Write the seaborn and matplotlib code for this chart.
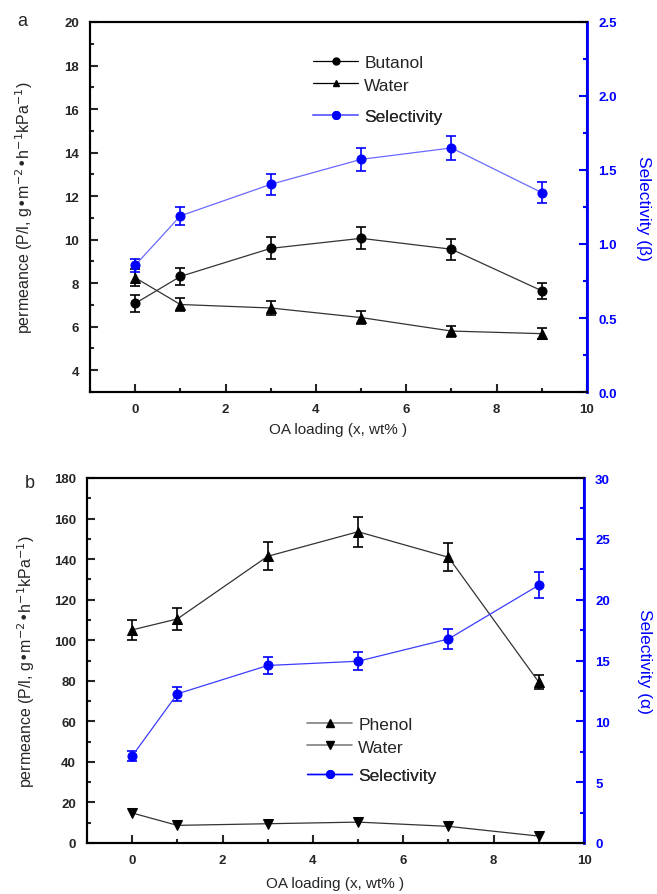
import matplotlib
matplotlib.use("Agg")
import matplotlib.pyplot as plt
import seaborn as sns
import pandas as pd
from matplotlib.ticker import MultipleLocator
from matplotlib.lines import Line2D

sns.set_theme(style="white")
plt.rcParams['font.family'] = ['Liberation Sans', 'DejaVu Sans']

# ---- data ----
oa_loading = [0, 1, 3, 5, 7, 9]

# panel a
butanol_perm = [7.07, 8.31, 9.60, 10.06, 9.56, 7.65]
butanol_err = [0.38, 0.40, 0.50, 0.50, 0.49, 0.38]
water_a_perm = [8.25, 7.02, 6.86, 6.42, 5.80, 5.68]
water_a_err = [0.40, 0.30, 0.30, 0.30, 0.25, 0.25]
sel_beta = [0.856, 1.19, 1.403, 1.572, 1.649, 1.347]
sel_beta_err = [0.045, 0.06, 0.07, 0.08, 0.08, 0.07]

# panel b
phenol_perm = [105.1, 110.5, 141.4, 153.5, 140.9, 79.3]
phenol_err = [5.0, 5.5, 7.0, 7.5, 7.0, 3.5]
water_b_perm = [14.8, 8.7, 9.5, 10.3, 8.2, 3.4]
sel_alpha = [7.15, 12.26, 14.59, 14.94, 16.77, 21.19]
sel_alpha_err = [0.4, 0.6, 0.7, 0.75, 0.85, 1.05]

ylabel = "permeance (P/l, g\u2022m$^{-2}$\u2022h$^{-1}$kPa$^{-1}$)"
xlabel = "OA loading (x, wt% )"

BLUE = "#0000ff"
LBLUE_A = "#6a6aff"
LBLUE_B = "#3c3cff"
DGRAY = "#333333"

W, H = 657, 895
fig = plt.figure(figsize=(6.57, 8.95), dpi=100)
axA = fig.add_axes([90/W, 1-393/H, 497/W, 370/H])
axB = fig.add_axes([87/W, 1-844/H, 497/W, 365/H])

def style_axes(ax, ax2, ylim, yl_major, yl_minor, y2lim, y2_major, y2_minor):
    ax.set_xlim(-1, 10)
    ax.set_ylim(*ylim)
    ax2.set_ylim(*y2lim)
    ax.xaxis.set_major_locator(MultipleLocator(2))
    ax.xaxis.set_minor_locator(MultipleLocator(1))
    ax.yaxis.set_major_locator(MultipleLocator(yl_major))
    ax.yaxis.set_minor_locator(MultipleLocator(yl_minor))
    ax2.yaxis.set_major_locator(MultipleLocator(y2_major))
    ax2.yaxis.set_minor_locator(MultipleLocator(y2_minor))
    for a in (ax, ax2):
        for s in a.spines.values():
            s.set_linewidth(1.5)
            s.set_color("black")
    ax2.spines['right'].set_color(BLUE)
    ax2.spines['right'].set_linewidth(2)
    ax.tick_params(axis='both', which='major', direction='in', length=6, width=1.5,
                   labelsize=9.5, top=False, right=False, bottom=True, left=True, pad=8)
    ax.tick_params(axis='both', which='minor', direction='in', length=3, width=1.5,
                   top=False, right=False, bottom=True, left=True)
    ax2.tick_params(axis='y', which='major', direction='in', length=6, width=1.5,
                    colors=BLUE, labelsize=9.5, pad=8)
    ax2.tick_params(axis='y', which='minor', direction='in', length=3, width=1.5, colors=BLUE)
    for lab in ax.get_xticklabels() + ax.get_yticklabels() + ax2.get_yticklabels():
        lab.set_fontweight('bold')

def series(ax, y, err, marker, lc, mc, ms=6.5):
    df = pd.DataFrame({"x": oa_loading, "y": y})
    sns.lineplot(data=df, x="x", y="y", ax=ax, color=lc, linewidth=0.9,
                 marker=marker, markersize=ms, markerfacecolor=mc, markeredgecolor=mc,
                 legend=False, zorder=3)
    if err is not None:
        ax.errorbar(oa_loading, y, yerr=err, fmt='none', ecolor=mc, elinewidth=1.2,
                    capsize=3.5, capthick=1.2, zorder=2)

def add_legend(ax, handles, labels, x_px, y_px):
    leg = ax.legend(handles, labels, loc='center left',
                    bbox_to_anchor=(x_px/W, 1-y_px/H), bbox_transform=fig.transFigure,
                    frameon=False, fontsize=12.5, handlelength=2.6, handletextpad=0.35,
                    labelspacing=0.45, borderpad=0, borderaxespad=0)
    ax.add_artist(leg)

# ---- panel a ----
axA2 = axA.twinx()
series(axA, butanol_perm, butanol_err, 'o', DGRAY, 'black')
series(axA, water_a_perm, water_a_err, '^', DGRAY, 'black')
series(axA2, sel_beta, sel_beta_err, 'o', LBLUE_A, BLUE)
style_axes(axA, axA2, (3, 20), 2, 1, (0, 2.5), 0.5, 0.25)
axA2.set_ylabel("Selectivity (\u03b2)", color=BLUE, fontsize=12.5, rotation=270, labelpad=25)
axA.set_xlabel(xlabel, fontsize=11, labelpad=5)
axA.set_ylabel(ylabel, fontsize=11.5, labelpad=21)

hA1 = [Line2D([], [], color='black', lw=0.9, marker='o', ms=5),
       Line2D([], [], color='black', lw=0.9, marker='^', ms=5)]
hA2 = [Line2D([], [], color=LBLUE_A, lw=1.2, marker='o', ms=5.5, mfc=BLUE, mec=BLUE)]
add_legend(axA2, hA1, ["Butanol", "Water"], 313, 74.5)
add_legend(axA2, hA2, ["Selectivity"], 313, 117)

# ---- panel b ----
axB2 = axB.twinx()
series(axB, phenol_perm, phenol_err, '^', DGRAY, 'black')
series(axB, water_b_perm, None, 'v', DGRAY, 'black')
series(axB2, sel_alpha, sel_alpha_err, 'o', LBLUE_B, BLUE)
style_axes(axB, axB2, (0, 180), 20, 10, (0, 30), 5, 2.5)
axB2.set_ylabel("Selectivity (\u03b1)", color=BLUE, fontsize=12.5, rotation=270, labelpad=30)
axB.set_xlabel(xlabel, fontsize=11, labelpad=7)
axB.set_ylabel(ylabel, fontsize=11.5, labelpad=12)

hB1 = [Line2D([], [], color='gray', lw=1.2, marker='^', ms=5.5, mfc='black', mec='black'),
       Line2D([], [], color='gray', lw=1.2, marker='v', ms=5.5, mfc='black', mec='black')]
hB2 = [Line2D([], [], color=BLUE, lw=1.0, marker='o', ms=5.5, mfc=BLUE, mec=BLUE)]
add_legend(axB2, hB1, ["Phenol", "Water"], 307, 736.5)
add_legend(axB2, hB2, ["Selectivity"], 307, 776)

fig.text(22/W, 1-22/H, "a", fontsize=13, ha='center', va='center')
fig.text(30/W, 1-483/H, "b", fontsize=13, ha='center', va='center')

fig.savefig("out.png", dpi=100)
